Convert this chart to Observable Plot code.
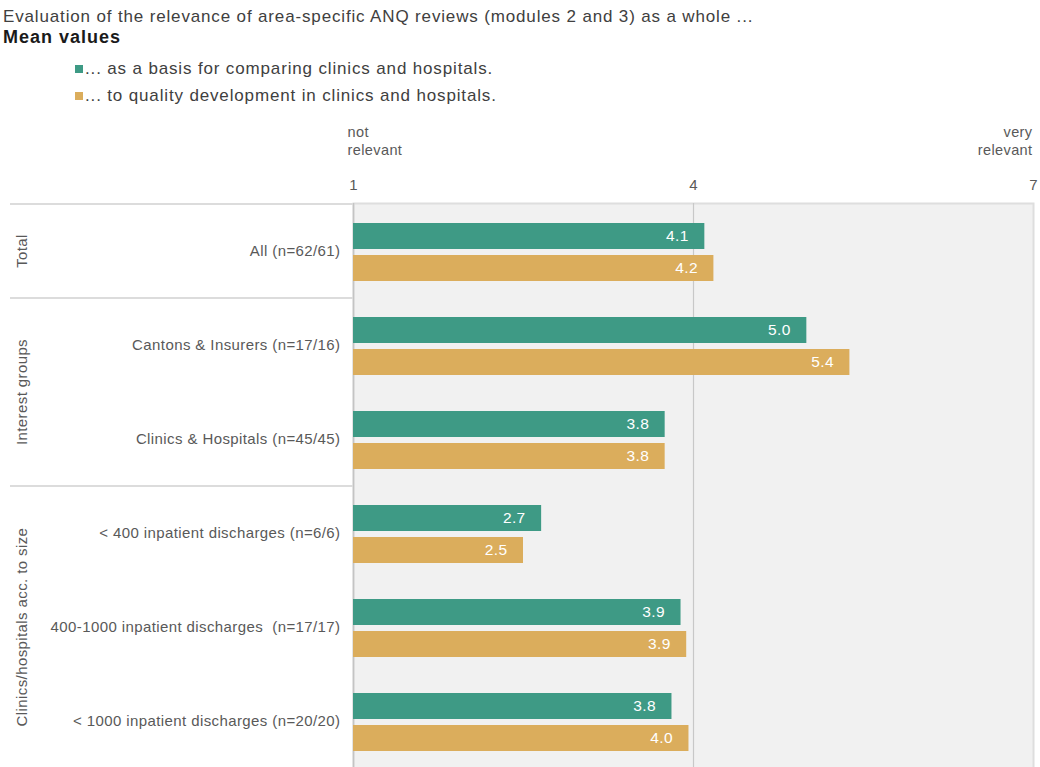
<!DOCTYPE html>
<html><head><meta charset="utf-8">
<script src="https://cdn.jsdelivr.net/npm/d3@7"></script>
<script src="https://cdn.jsdelivr.net/npm/@observablehq/plot@0.6"></script>
<style>
html,body{margin:0;padding:0;background:#fff;overflow:hidden;font-family:"Liberation Sans",Arial,sans-serif;}
#head{position:relative;height:115px;width:1040px;color:#404040;letter-spacing:0.85px;}
#head .t{position:absolute;left:3px;top:7px;font-size:17px;white-space:nowrap;}
#head .s{position:absolute;left:3px;top:27px;font-size:18px;font-weight:bold;color:#1a1a1a;letter-spacing:1px;}
#head .l{position:absolute;left:75px;font-size:17px;white-space:nowrap;}
#head .l i{display:inline-block;width:8px;height:8px;margin-right:2px;vertical-align:1px;}
svg{display:block;}
</style></head>
<body>
<div id="head"></div>
<div id="chart"></div>
<script>
const title = "Evaluation of the relevance of area-specific ANQ reviews (modules 2 and 3) as a whole ...";
const subtitle = "Mean values";
const seriesNames = ["... as a basis for comparing clinics and hospitals.", "... to quality development in clinics and hospitals."];
const seriesColors = ["#3e9a85", "#dbad5c"];
const categories = ["All (n=62/61)", "Cantons & Insurers (n=17/16)", "Clinics & Hospitals (n=45/45)", "< 400 inpatient discharges (n=6/6)", "400-1000 inpatient discharges  (n=17/17)", "< 1000 inpatient discharges (n=20/20)"];
const comparingValues = [4.1, 5.0, 3.75, 2.66, 3.89, 3.81];
const comparingLabels = ["4.1", "5.0", "3.8", "2.7", "3.9", "3.8"];
const developmentValues = [4.18, 5.38, 3.75, 2.5, 3.94, 3.96];
const developmentLabels = ["4.2", "5.4", "3.8", "2.5", "3.9", "4.0"];
const groupNames = ["Total", "Interest groups", "Clinics/hospitals acc. to size"];
const groupSizes = [1, 2, 3];
const xTicks = [1, 4, 7];
const scaleEnds = [{x: 1, text: "not\nrelevant"}, {x: 7, text: "very\nrelevant"}];

// header
const head = document.getElementById("head");
head.innerHTML = `<div class="t">${title}</div><div class="s">${subtitle}</div>` +
  seriesNames.map((n, i) => `<div class="l" style="top:${59 + i * 27}px"><i style="background:${seriesColors[i]}"></i>${n.replace(/&/g,"&amp;")}</div>`).join("");

const green = categories.map((c, i) => ({cat: c, v: comparingValues[i], label: comparingLabels[i]}));
const orange = categories.map((c, i) => ({cat: c, v: developmentValues[i], label: developmentLabels[i]}));

// group separators and rotated group labels, positioned with the plot's y scale
function groupDecor(index, scales, values, dims) {
  const y = scales.y;
  const step = y(categories[1]) - y(categories[0]);
  const g = d3.create("svg:g");
  let k = 0;
  groupNames.forEach((name, gi) => {
    const top = y(categories[k]);
    const bottom = top + step * groupSizes[gi];
    g.append("line").attr("x1", 10).attr("x2", dims.marginLeft).attr("y1", top).attr("y2", top)
      .attr("stroke", "#dcdcdc").attr("stroke-width", 2);
    g.append("text").attr("transform", `translate(22,${(top + bottom) / 2}) rotate(-90)`)
      .attr("text-anchor", "middle").attr("dy", "0.35em").attr("fill", "#595959")
      .attr("font-size", 15).text(name);
    k += groupSizes[gi];
  });
  return g.node();
}

const plot = Plot.plot({
  width: 1040,
  height: 654,
  marginLeft: 353,
  marginRight: 7,
  marginTop: 88,
  marginBottom: 0,
  style: {fontFamily: "'Liberation Sans', Arial, sans-serif", fontSize: "15px", color: "#595959", background: "transparent", letterSpacing: "0.4px"},
  x: {domain: [1, 7], type: "linear"},
  y: {domain: categories, type: "band", padding: 0},
  marks: [
    Plot.frame({fill: "#f1f1f1", stroke: "#dedede", strokeWidth: 2}),
    Plot.ruleX([4], {stroke: "#c8c8c8", strokeWidth: 1.2}),
    Plot.ruleX([1], {stroke: "#c4c4c4", strokeWidth: 1.5}),
    Plot.axisX(xTicks, {anchor: "top", tickSize: 0, tickPadding: 14, label: null, fontSize: 15, tickFormat: d => String(d), fill: "#595959"}),
    Plot.axisY({anchor: "left", tickSize: 0, tickPadding: 13, label: null, fontSize: 15, fill: "#595959"}),
    Plot.barX(green, {x1: 1, x2: "v", y: "cat", fill: seriesColors[0], insetTop: 19, insetBottom: 49}),
    Plot.barX(orange, {x1: 1, x2: "v", y: "cat", fill: seriesColors[1], insetTop: 51, insetBottom: 17}),
    Plot.text(green, {x: "v", y: "cat", text: "label", dy: -15, dx: -16, textAnchor: "end", fill: "white", fontSize: 15.5}),
    Plot.text(orange, {x: "v", y: "cat", text: "label", dy: 17, dx: -16, textAnchor: "end", fill: "white", fontSize: 15.5}),
    Plot.text(scaleEnds.slice(0, 1), {x: "x", text: "text", frameAnchor: "top", dy: -80, dx: -6, textAnchor: "start", lineAnchor: "top", lineHeight: 1.27, fill: "#595959", fontSize: 14.5}),
    Plot.text(scaleEnds.slice(1), {x: "x", text: "text", frameAnchor: "top", dy: -80, dx: -1, textAnchor: "end", lineAnchor: "top", lineHeight: 1.27, fill: "#595959", fontSize: 14.5}),
    groupDecor
  ]
});
document.getElementById("chart").appendChild(plot);
</script>
</body></html>
